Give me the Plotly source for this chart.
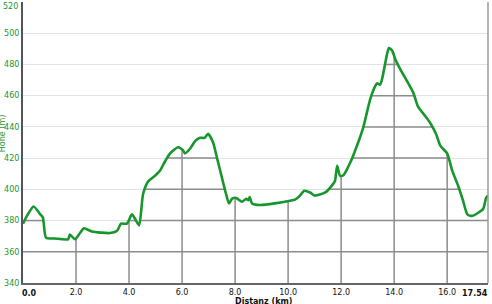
import numpy as np
import plotly.graph_objects as go

# --- data ---
km = [0, 0.15, 0.4, 0.65, 0.75, 0.87, 1.2, 1.70, 1.77, 1.96, 2.15, 2.30, 2.60, 3.28, 3.55, 3.70,
      3.92, 4.11, 4.23, 4.38, 4.53, 4.72, 5.0, 5.17, 5.36, 5.55, 5.85, 6.04, 6.11, 6.3, 6.5, 6.68,
      6.85, 6.98, 7.17, 7.32, 7.51, 7.66, 7.77, 7.89, 8.04, 8.26, 8.42, 8.5, 8.55, 8.64, 8.94, 9.5,
      10.08, 10.26, 10.45, 10.6, 10.83, 11.0, 11.4, 11.7, 11.77, 11.85, 11.96, 12.08, 12.15, 12.34,
      12.45, 12.83, 13.1, 13.28, 13.36, 13.47, 13.55, 13.7, 13.8, 13.92, 14.04, 14.23, 14.53, 14.72,
      14.9, 15.17, 15.36, 15.58, 15.74, 16.0, 16.19, 16.42, 16.6, 16.76, 16.94, 17.17, 17.36, 17.47, 17.54]
elev = [378, 383, 389, 384, 382, 369, 368.5, 368, 371, 368, 372, 375, 373, 372, 373.5, 378,
        378, 384, 381, 377, 397, 405, 409, 412, 418, 423, 427, 425, 423, 426, 431, 433,
        433, 435.5, 430, 420, 407, 397, 391, 394, 394.5, 392, 394, 393, 395, 391, 390, 391,
        392.7, 393.4, 396, 399, 398, 396, 398, 403.5, 405.5, 415, 408.7, 409, 410.6, 417,
        421.4, 439.4, 458, 466, 468, 467, 471, 484, 490.5, 489, 483.5, 477, 468, 462,
        453, 447, 442.5, 435.5, 428, 423, 412, 402, 392.7, 384, 383, 385, 387.6, 394.6, 396]

x_ticks = [0, 2, 4, 6, 8, 10, 12, 14, 16, 17.54]
x_ticktext = ["", "2.0", "4.0", "6.0", "8.0", "10.0", "12.0", "14.0", "16.0", ""]
y_ticks = [340, 360, 380, 400, 420, 440, 460, 480, 500, 520]
y_ticktext = ["340", "360", "380", "400", "420", "440", "460", "480", "500", ""]

GREEN = "#17962e"
DARKGRID = "#8c8c8c"
FONT = "DejaVu Sans"

km_a = np.array(km, dtype=float)
el_a = np.array(elev, dtype=float)


def below_curve_segments(g):
    xs, ys = [], []
    for i in range(len(km_a)):
        above = el_a[i] >= g
        if i > 0 and above != (el_a[i - 1] >= g):
            x0, x1, y0, y1 = km_a[i - 1], km_a[i], el_a[i - 1], el_a[i]
            xc = x0 + (g - y0) * (x1 - x0) / (y1 - y0)
            xs.append(xc); ys.append(g)
            if not above:
                xs.append(None); ys.append(None)
        if above:
            xs.append(km_a[i]); ys.append(g)
    return xs, ys


fig = go.Figure()

# dark horizontal grid parts below the curve
hx, hy = [], []
for g in y_ticks[1:-1]:
    xs, ys = below_curve_segments(g)
    hx += xs + [None]
    hy += ys + [None]
fig.add_trace(go.Scatter(x=hx, y=hy, mode="lines", line=dict(color=DARKGRID, width=1.5),
                         hoverinfo="skip", showlegend=False))

# dark vertical grid parts below the curve
vx, vy = [], []
for t in x_ticks[1:-1]:
    vx += [t, t, None]
    vy += [y_ticks[0], float(np.interp(t, km_a, el_a)), None]
fig.add_trace(go.Scatter(x=vx, y=vy, mode="lines", line=dict(color=DARKGRID, width=1.5),
                         hoverinfo="skip", showlegend=False))

# elevation profile
fig.add_trace(go.Scatter(x=km, y=elev, mode="lines",
                         line=dict(color=GREEN, width=2.6, shape="spline", smoothing=0.6),
                         showlegend=False))

fig.update_layout(
    width=492, height=304,
    margin=dict(l=23, r=4, t=2, b=21),
    paper_bgcolor="white", plot_bgcolor="white",
    font=dict(family=FONT, size=8),
    xaxis=dict(range=[0, 17.54], tickvals=x_ticks, ticktext=x_ticktext,
               showgrid=False, zeroline=False,
               showline=True, linecolor="#666666", linewidth=2,
               mirror=False, ticks="", tickfont=dict(color="#111", size=8, family=FONT),
               tickprefix="<b>", ticksuffix="</b>"),
    yaxis=dict(range=[340, 520], tickvals=y_ticks, ticktext=y_ticktext,
               showgrid=True, gridcolor="#e3e3e3", gridwidth=1, zeroline=False,
               showline=True, linecolor="#555555", linewidth=2,
               ticks="", tickfont=dict(color=GREEN, size=8, family=FONT)),
    shapes=[dict(type="line", xref="paper", yref="paper", x0=1, x1=1, y0=0, y1=1,
                 line=dict(color="#9a9a9a", width=1.5), layer="above")],
    annotations=[
        dict(text="520", x=0, y=520, xref="paper", yref="y", xanchor="right",
             yanchor="middle", xshift=-3, yshift=-4, showarrow=False,
             font=dict(color=GREEN, size=8, family=FONT)),
        dict(text="<b>0.0</b>", x=0, y=0, xref="x", yref="paper", xanchor="center",
             yanchor="top", xshift=6, yshift=-4, showarrow=False,
             font=dict(color="#111", size=8, family=FONT)),
        dict(text="<b>17.54</b>", x=17.54, y=0, xref="x", yref="paper", xanchor="right",
             yanchor="top", xshift=2, yshift=-4, showarrow=False,
             font=dict(color="#111", size=8, family=FONT)),
        dict(text="<b>Distanz (km)</b>", x=0.5, y=-0.065, xref="paper", yref="paper",
             xanchor="center", yanchor="middle", xshift=8, showarrow=False,
             font=dict(color="#111", size=8, family=FONT)),
        dict(text="Höhe (m)", x=-0.045, y=0.53, xref="paper", yref="paper",
             xanchor="center", yanchor="middle", textangle=-90, showarrow=False,
             font=dict(color=GREEN, size=8, family=FONT)),
    ],
)

fig.write_html("out.html")
